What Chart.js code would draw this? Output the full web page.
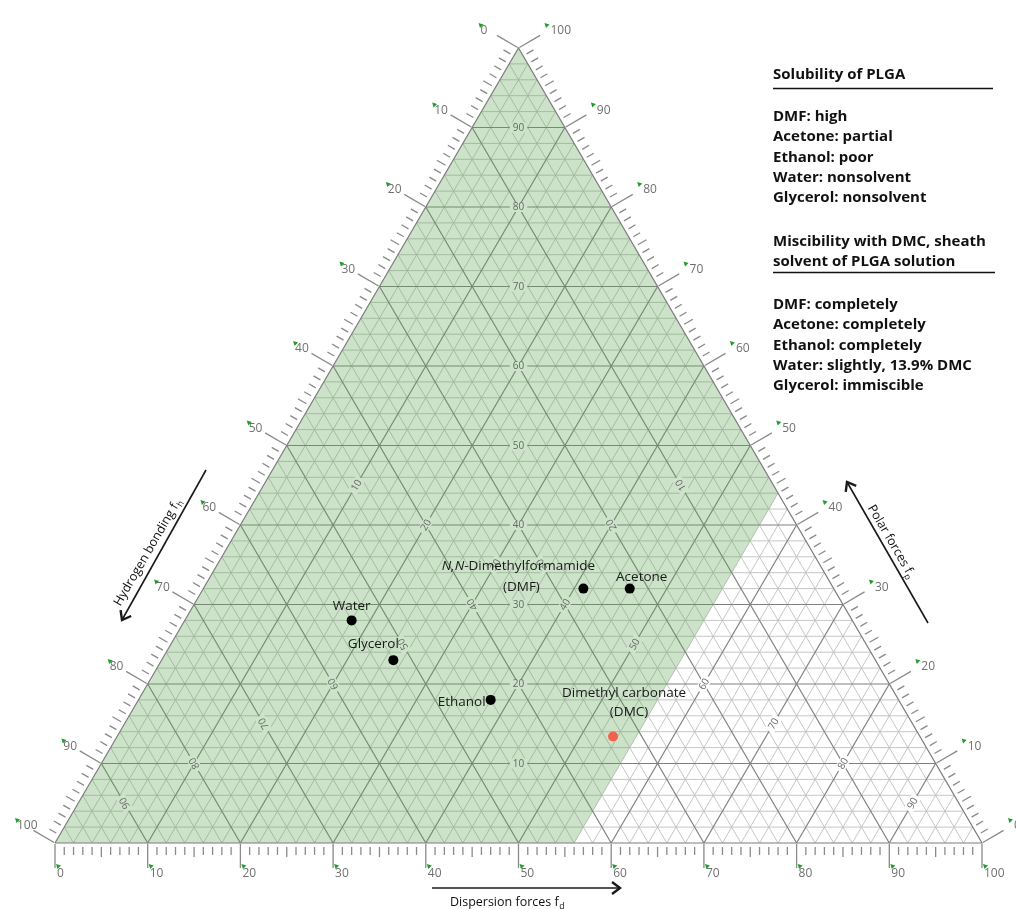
<!DOCTYPE html>
<html><head><meta charset="utf-8">
<script src="https://cdn.jsdelivr.net/npm/chart.js@4.4.1/dist/chart.umd.min.js"></script>
<style>html,body{margin:0;padding:0;background:#fff;}canvas{display:block;}</style>
</head><body>
<canvas id="c" width="1016" height="909"></canvas>
<script>
// ---------- data ----------
const solvents = ['Water', 'Glycerol', 'Ethanol', 'DMF', 'Acetone', 'DMC'];
const fdValues = [18, 25, 38, 41, 46, 53.5];     // dispersion fraction
const fpValues = [28, 23, 18, 32, 32, 13.4];     // polar fraction
const fhValues = [54, 52, 44, 27, 22, 33.1];     // hydrogen-bonding fraction
const edgeTickLabels = [0, 10, 20, 30, 40, 50, 60, 70, 80, 90, 100];
const innerLabelValues = [10, 20, 30, 40, 50, 60, 70, 80, 90];
const gridStep = 2;
const plgaRegionFdMax = 56;
const solubilityTitle = 'Solubility of PLGA';
const solubilityLines = ['DMF: high', 'Acetone: partial', 'Ethanol: poor', 'Water: nonsolvent', 'Glycerol: nonsolvent'];
const miscibilityTitle = ['Miscibility with DMC, sheath', 'solvent of PLGA solution'];
const miscibilityLines = ['DMF: completely', 'Acetone: completely', 'Ethanol: completely', 'Water: slightly, 13.9% DMC', 'Glycerol: immiscible'];

// ---------- helpers ----------
function toXY(fd, fp, fh) {
  const s = fd + fp + fh;
  const d = fd / s * 100, p = fp / s * 100;
  return { x: d + p / 2, y: p };
}
const FONT = "'Open Sans', sans-serif";
const GREEN_BG = '#cde4ca';

// ---------- datasets ----------
const datasets = [];
for (let v = gridStep; v < 100; v += gridStep) {
  const major = v % 10 === 0;
  const st = { type: 'scatter', showLine: true, pointRadius: 0, fill: false, clip: false,
    borderColor: major ? '#808080' : '#bfbfbf', borderWidth: major ? 1.2 : 0.9, order: major ? 9 : 10 };
  datasets.push(Object.assign({ data: [toXY(0, v, 100 - v), toXY(100 - v, v, 0)] }, st));
  datasets.push(Object.assign({ data: [toXY(v, 0, 100 - v), toXY(v, 100 - v, 0)] }, st));
  datasets.push(Object.assign({ data: [toXY(0, 100 - v, v), toXY(100 - v, 0, v)] }, st));
}
// PLGA region (fd <= plgaRegionFdMax)
datasets.push({ type: 'scatter', label: 'region', showLine: true, pointRadius: 0, clip: false,
  data: [toXY(0, 0, 100), toXY(0, 100, 0), toXY(plgaRegionFdMax, 100 - plgaRegionFdMax, 0),
         toXY(plgaRegionFdMax, 0, 100 - plgaRegionFdMax), toXY(0, 0, 100)],
  borderColor: 'rgba(0,0,0,0)', borderWidth: 0, fill: 'shape', backgroundColor: 'rgba(90,165,80,0.31)', order: 5 });
// triangle outline
datasets.push({ type: 'scatter', showLine: true, pointRadius: 0, clip: false, fill: false,
  data: [toXY(0, 0, 100), toXY(0, 100, 0), toXY(100, 0, 0), toXY(0, 0, 100)],
  borderColor: '#7d7d7d', borderWidth: 1.2, order: 4 });
// solvents
datasets.push({ type: 'scatter', label: 'solvents', showLine: false, clip: false,
  data: solvents.map((s, i) => toXY(fdValues[i], fpValues[i], fhValues[i])),
  pointRadius: 5, pointBorderWidth: 0,
  backgroundColor: solvents.map(s => s === 'DMC' ? '#f2604e' : '#000000'), order: 1 });

// ---------- drawing plugin ----------
function P(chart, pt) { return [chart.scales.x.getPixelForValue(pt.x), chart.scales.y.getPixelForValue(pt.y)]; }
function geom(chart) {
  const bl = P(chart, toXY(0, 0, 100)), tp = P(chart, toXY(0, 100, 0)), br = P(chart, toXY(100, 0, 0));
  const angFd = Math.atan2(tp[1] - bl[1], tp[0] - bl[0]);
  const angFh = Math.atan2(tp[1] - br[1], tp[0] - br[0]);
  const lu = [Math.cos(angFd), Math.sin(angFd)], ru = [Math.cos(angFh), Math.sin(angFh)];
  return { bl, tp, br, angFd, angFh, nL: [lu[1], -lu[0]], nR: [-ru[1], ru[0]] };
}
function drawInnerLabels(chart) {
  const ctx = chart.ctx, g = geom(chart);
  ctx.save();
  ctx.font = '10px ' + FONT; ctx.textAlign = 'center'; ctx.textBaseline = 'middle';
  const items = [];
  innerLabelValues.forEach(k => {
    const h = (100 - k) / 2;
    items.push([toXY(h, k, h), 0, h, k]);
    items.push([toXY(k, h, h), g.angFd, k, k]);
    items.push([toXY(h, h, k), g.angFh, h, k]);
  });
  items.forEach(([pt, ang, fdAt, k]) => {
    const [x, y] = P(chart, pt);
    const t = String(k), w = ctx.measureText(t).width;
    ctx.save(); ctx.translate(x, y); ctx.rotate(ang);
    ctx.fillStyle = fdAt < plgaRegionFdMax ? GREEN_BG : '#ffffff';
    ctx.fillRect(-w / 2 - 3, -5, w + 6, 10);
    ctx.fillStyle = '#666666'; ctx.fillText(t, 0, 0.5);
    ctx.restore();
  });
  ctx.restore();
}
function flag(ctx, x, y) {
  ctx.beginPath(); ctx.moveTo(x, y); ctx.lineTo(x + 5, y + 1.5); ctx.lineTo(x + 1.5, y + 5); ctx.closePath();
  ctx.fillStyle = '#1f9e2e'; ctx.fill();
}
function drawEdges(chart) {
  const ctx = chart.ctx, g = geom(chart);
  ctx.save();
  ctx.strokeStyle = '#8a8a8a'; ctx.lineWidth = 1.3;
  for (let k = 0; k <= 100; k++) {
    const major = k % 10 === 0, mid = k % 5 === 0;
    const a = major ? 1 : 4, b = major ? 25 : (mid ? 14 : 12);
    const edges = [[P(chart, toXY(k, 0, 100 - k)), [0, 1]],
                   [P(chart, toXY(0, 100 - k, k)), g.nL],
                   [P(chart, toXY(100 - k, k, 0)), g.nR]];
    edges.forEach(([p, n]) => {
      ctx.beginPath(); ctx.moveTo(p[0] + n[0] * a, p[1] + n[1] * a);
      ctx.lineTo(p[0] + n[0] * b, p[1] + n[1] * b); ctx.stroke();
    });
  }
  ctx.font = '12px ' + FONT; ctx.textBaseline = 'middle'; ctx.textAlign = 'left';
  edgeTickLabels.forEach(k => {
    const pb = P(chart, toXY(k, 0, 100 - k));
    ctx.fillStyle = '#707070'; ctx.fillText(String(k), pb[0] + 2, pb[1] + 31); flag(ctx, pb[0] + 1, pb[1] + 21);
    const pl = P(chart, toXY(0, 100 - k, k));
    ctx.fillStyle = '#707070'; ctx.fillText(String(k), pl[0] - 38, pl[1] - 17); flag(ctx, pl[0] - 40, pl[1] - 25);
    const pr = P(chart, toXY(100 - k, k, 0));
    ctx.fillStyle = '#707070'; ctx.fillText(String(k), pr[0] + 32, pr[1] - 17); flag(ctx, pr[0] + 26, pr[1] - 25);
  });
  ctx.restore();
}
function subText(ctx, main, sub, cx, cy, ang, size) {
  ctx.save(); ctx.translate(cx, cy); ctx.rotate(ang);
  ctx.textBaseline = 'alphabetic'; ctx.textAlign = 'left'; ctx.fillStyle = '#111';
  ctx.font = size + 'px ' + FONT; const w1 = ctx.measureText(main).width;
  ctx.font = (size * 0.7) + 'px ' + FONT; const w2 = ctx.measureText(sub).width;
  const x0 = -(w1 + w2) / 2;
  ctx.font = size + 'px ' + FONT; ctx.fillText(main, x0, size * 0.35);
  ctx.font = (size * 0.7) + 'px ' + FONT; ctx.fillText(sub, x0 + w1 + 0.5, size * 0.35 + 3);
  ctx.restore();
}
function arrow(ctx, x1, y1, x2, y2) {
  const a = Math.atan2(y2 - y1, x2 - x1), L = 10;
  ctx.save(); ctx.strokeStyle = '#1a1a1a'; ctx.lineWidth = 1.6;
  ctx.beginPath(); ctx.moveTo(x1, y1); ctx.lineTo(x2, y2); ctx.stroke();
  ctx.lineWidth = 2.4; ctx.lineJoin = 'miter';
  ctx.beginPath();
  ctx.moveTo(x2 - L * Math.cos(a - 0.65), y2 - L * Math.sin(a - 0.65));
  ctx.lineTo(x2, y2);
  ctx.lineTo(x2 - L * Math.cos(a + 0.65), y2 - L * Math.sin(a + 0.65));
  ctx.stroke(); ctx.restore();
}
function drawTitles(chart) {
  const ctx = chart.ctx, g = geom(chart);
  arrow(ctx, 432, 888, 620, 888);
  subText(ctx, 'Dispersion forces f', 'd', 507, 902, 0, 12.5);
  arrow(ctx, 206, 470, 122, 620);
  subText(ctx, 'Hydrogen bonding f', 'h', 147, 552, g.angFd, 12.5);
  arrow(ctx, 928, 623, 847, 482);
  subText(ctx, 'Polar forces f', 'p', 892, 541, g.angFh + Math.PI, 12.5);
}
const pointLabelLayout = {
  Water: [[0, -14]], Glycerol: [[-20, -16]], Ethanol: [[-29, 2]],
  DMF: [[-65, -22], [-62, -1]], Acetone: [[12, -11]], DMC: [[11, -43], [16, -24]]
};
function drawPointLabels(chart) {
  const ctx = chart.ctx, F = '13.5px ' + FONT;
  ctx.save(); ctx.textBaseline = 'middle'; ctx.fillStyle = '#1a1a1a';
  solvents.forEach((s, i) => {
    const [x, y] = P(chart, toXY(fdValues[i], fpValues[i], fhValues[i]));
    const off = pointLabelLayout[s];
    if (s === 'DMF') {
      ctx.font = 'italic ' + F; const w1 = ctx.measureText('N,N').width;
      ctx.font = F; const w2 = ctx.measureText('-Dimethylformamide').width;
      const x0 = x + off[0][0] - (w1 + w2) / 2;
      ctx.textAlign = 'left';
      ctx.font = 'italic ' + F; ctx.fillText('N,N', x0, y + off[0][1]);
      ctx.font = F; ctx.fillText('-Dimethylformamide', x0 + w1, y + off[0][1]);
      ctx.textAlign = 'center'; ctx.fillText('(DMF)', x + off[1][0], y + off[1][1]);
    } else if (s === 'DMC') {
      ctx.font = F; ctx.textAlign = 'center';
      ctx.fillText('Dimethyl carbonate', x + off[0][0], y + off[0][1]);
      ctx.fillText('(DMC)', x + off[1][0], y + off[1][1]);
    } else {
      ctx.font = F; ctx.textAlign = 'center';
      ctx.fillText(s, x + off[0][0], y + off[0][1]);
    }
  });
  ctx.restore();
}
function drawPanel(chart) {
  const ctx = chart.ctx, x = 773;
  ctx.save(); ctx.fillStyle = '#111'; ctx.strokeStyle = '#111'; ctx.lineWidth = 1.6;
  ctx.font = 'bold 15px ' + FONT; ctx.textAlign = 'left'; ctx.textBaseline = 'middle';
  ctx.fillText(solubilityTitle, x, 75);
  ctx.beginPath(); ctx.moveTo(x, 88.5); ctx.lineTo(993, 88.5); ctx.stroke();
  solubilityLines.forEach((t, i) => ctx.fillText(t, x, 117 + i * 20.2));
  miscibilityTitle.forEach((t, i) => ctx.fillText(t, x, 242 + i * 20));
  ctx.beginPath(); ctx.moveTo(x, 272.5); ctx.lineTo(995, 272.5); ctx.stroke();
  miscibilityLines.forEach((t, i) => ctx.fillText(t, x, 305 + i * 20.2));
  ctx.restore();
}
const decor = {
  id: 'ternaryDecor',
  beforeDatasetDraw(chart, args) {
    if (chart.data.datasets[args.index].label === 'solvents') drawInnerLabels(chart);
  },
  afterDatasetsDraw(chart) {
    drawEdges(chart); drawTitles(chart); drawPointLabels(chart); drawPanel(chart);
  }
};

new Chart(document.getElementById('c'), {
  type: 'scatter',
  data: { datasets },
  options: {
    responsive: false, animation: false, devicePixelRatio: 1, events: [],
    layout: { padding: { left: 55, right: 34, top: 48, bottom: 66 } },
    scales: {
      x: { type: 'linear', min: 0, max: 100, display: false },
      y: { type: 'linear', min: 0, max: 100, display: false }
    },
    plugins: { legend: { display: false }, tooltip: { enabled: false } }
  },
  plugins: [decor]
});
</script>
</body></html>
